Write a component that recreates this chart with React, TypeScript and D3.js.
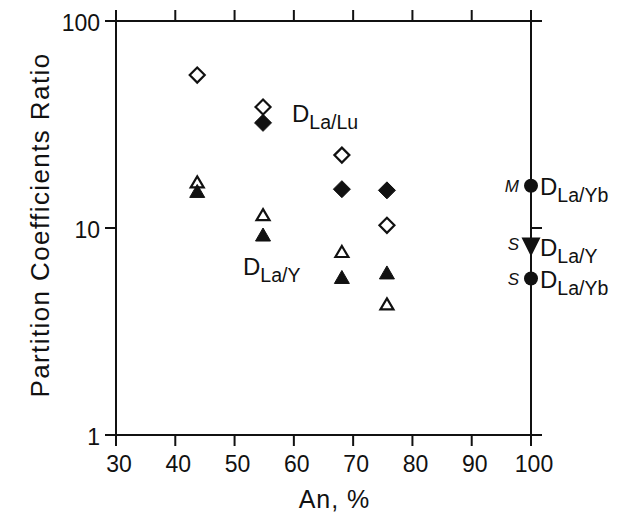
import React, { useEffect, useRef } from "react";
import * as d3 from "d3";

// An, % for the four sample columns
const anValues = [43.7, 54.8, 68.1, 75.7];
// D La/Lu
const laLuOpen = [54.8, 38.4, 22.5, 10.3];
const laLuFilledAn = [54.8, 68.1, 75.7];
const laLuFilled = [32.2, 15.4, 15.2];
// D La/Y
const laYOpen = [16.7, 11.6, 7.7, 4.3];
const laYFilled = [15.1, 9.3, 5.8, 6.1];
// reference values on the An = 100 axis
const refAn = 100;
const refMLaYb = 16.0;
const refSLaY = 8.1;
const refSLaYb = 5.7;

const xTicks = [30, 40, 50, 60, 70, 80, 90, 100];
const yTicks = [1, 10, 100];

const FONT = "'Liberation Sans', Arial, Helvetica, sans-serif";

function App() {
  const ref = useRef<SVGSVGElement>(null);

  useEffect(() => {
    const width = 625;
    const height = 517;
    const left = 116, right = 531, top = 21, bottom = 435;

    const svg = d3.select(ref.current);
    svg.selectAll("*").remove();
    svg.attr("width", width).attr("height", height);

    const x = d3.scaleLinear().domain([30, 100]).range([left, right]);
    const y = d3.scaleLog().domain([1, 100]).range([bottom, top]);

    const ink = "#111";

    // frame
    svg.append("rect")
      .attr("x", left).attr("y", top)
      .attr("width", right - left).attr("height", bottom - top)
      .attr("fill", "none").attr("stroke", ink).attr("stroke-width", 2);

    // x ticks on top and bottom, outward
    const tickLen = 11;
    svg.append("g").selectAll("line").data(xTicks).enter().append("line")
      .attr("x1", d => x(d)).attr("x2", d => x(d))
      .attr("y1", top).attr("y2", top - tickLen)
      .attr("stroke", ink).attr("stroke-width", 2);
    svg.append("g").selectAll("line").data(xTicks).enter().append("line")
      .attr("x1", d => x(d)).attr("x2", d => x(d))
      .attr("y1", bottom).attr("y2", bottom + tickLen)
      .attr("stroke", ink).attr("stroke-width", 2);

    // y ticks on both sides, outward
    svg.append("g").selectAll("line").data(yTicks).enter().append("line")
      .attr("x1", left).attr("x2", left - tickLen)
      .attr("y1", d => y(d)).attr("y2", d => y(d))
      .attr("stroke", ink).attr("stroke-width", 2);
    svg.append("g").selectAll("line").data(yTicks).enter().append("line")
      .attr("x1", right).attr("x2", right + tickLen)
      .attr("y1", d => y(d)).attr("y2", d => y(d))
      .attr("stroke", ink).attr("stroke-width", 2);

    // tick labels
    svg.append("g").selectAll("text").data(xTicks).enter().append("text")
      .attr("x", d => x(d) + 3).attr("y", bottom + 37)
      .attr("text-anchor", "middle")
      .style("font-family", FONT).style("font-size", "23px")
      .attr("fill", ink)
      .text(d => d);
    svg.append("g").selectAll("text").data(yTicks).enter().append("text")
      .attr("x", left - 16).attr("y", d => y(d) + 10)
      .attr("text-anchor", "end")
      .style("font-family", FONT).style("font-size", "23px")
      .attr("fill", ink)
      .text(d => d);

    // axis titles
    svg.append("text")
      .attr("x", (left + right) / 2 + 11).attr("y", 508)
      .attr("text-anchor", "middle")
      .style("font-family", FONT).style("font-size", "25px").style("letter-spacing", "1px")
      .attr("fill", ink)
      .text("An, %");
    svg.append("text")
      .attr("transform", `translate(49, ${(top + bottom) / 2 - 3}) rotate(-90)`)
      .attr("text-anchor", "middle")
      .style("font-family", FONT).style("font-size", "26px").style("letter-spacing", "1.4px")
      .attr("fill", ink)
      .text("Partition Coefficients Ratio");

    // marker paths
    const diamond = (s: number) => `M0,${-s}L${s},0L0,${s}L${-s},0Z`;
    const triUp = (w: number, h: number) => `M0,${-h / 2}L${w / 2},${h / 2}L${-w / 2},${h / 2}Z`;
    const triDown = (w: number, h: number) => `M0,${h / 2}L${w / 2},${-h / 2}L${-w / 2},${-h / 2}Z`;

    const marks = svg.append("g");

    const plot = (xs: number[], ys: number[], path: string, filled: boolean) => {
      marks.append("g").selectAll("path").data(ys).enter().append("path")
        .attr("transform", (d, i) => `translate(${x(xs[i])}, ${y(d)})`)
        .attr("d", path)
        .attr("fill", filled ? ink : "#fff")
        .attr("stroke", ink)
        .attr("stroke-width", filled ? 1 : 2.2)
        .attr("stroke-linejoin", "miter");
    };

    plot(anValues, laLuOpen, diamond(7.5), false);
    plot(laLuFilledAn, laLuFilled, diamond(8.5), true);
    plot(anValues, laYOpen, triUp(13, 11), false);
    plot(anValues, laYFilled, triUp(15, 13), true);

    // reference points on the right axis
    marks.append("circle")
      .attr("cx", x(refAn)).attr("cy", y(refMLaYb)).attr("r", 7)
      .attr("fill", ink);
    marks.append("circle")
      .attr("cx", x(refAn)).attr("cy", y(refSLaYb)).attr("r", 7)
      .attr("fill", ink);
    marks.append("path")
      .attr("transform", `translate(${x(refAn)}, ${y(refSLaY)})`)
      .attr("d", triDown(19, 19))
      .attr("fill", ink);

    // labels with subscripts
    const dLabel = (lx: number, ly: number, sub: string) => {
      const t = svg.append("text")
        .attr("x", lx).attr("y", ly)
        .style("font-family", FONT).attr("fill", ink);
      t.append("tspan").style("font-size", "24px").text("D");
      t.append("tspan").style("font-size", "19.5px").attr("dy", 7).text(sub);
    };
    dLabel(x(54.8) + 29, y(laLuFilled[0]) - 1, "La/Lu");
    dLabel(x(54.8) - 20, y(laYFilled[1]) + 40, "La/Y");
    dLabel(x(refAn) + 9, y(refMLaYb) + 9, "La/Yb");
    dLabel(x(refAn) + 9, y(refSLaY) + 9, "La/Y");
    dLabel(x(refAn) + 9, y(refSLaYb) + 9, "La/Yb");

    const italic = (ly: number, s: string) => {
      svg.append("text")
        .attr("x", x(refAn) - 12).attr("y", ly + 6)
        .attr("text-anchor", "end")
        .style("font-family", FONT).style("font-size", "17px").style("font-style", "italic")
        .attr("fill", ink)
        .text(s);
    };
    italic(y(refMLaYb), "M");
    italic(y(refSLaY) - 3, "S");
    italic(y(refSLaYb), "S");
  }, []);

  return (
    <div style={{ position: "absolute", left: 0, top: 0 }}>
      <svg ref={ref} style={{ display: "block", background: "#fff" }} />
    </div>
  );
}

export default App;
